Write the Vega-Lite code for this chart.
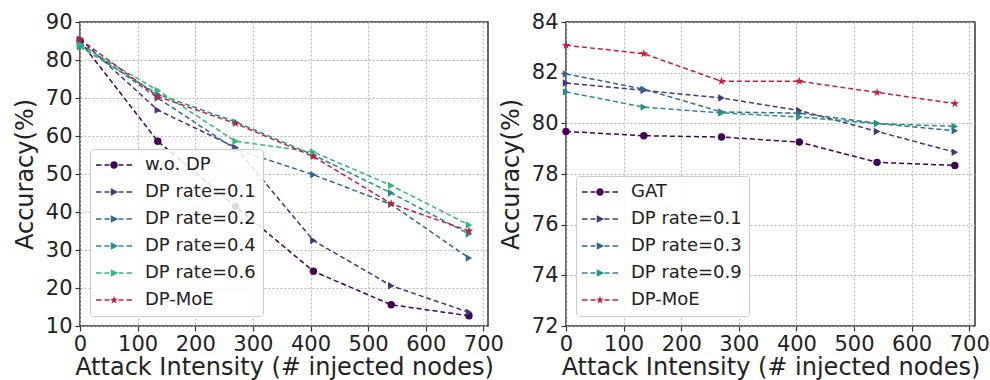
{
  "$schema": "https://vega.github.io/schema/vega-lite/v6.json",
  "background": "white",
  "padding": {"left": 12, "top": 10, "right": 5, "bottom": 0},
  "bounds": "flush",
  "spacing": 78,
  "config": {
    "font": "DejaVu Sans",
    "view": {"stroke": "#333333", "strokeWidth": 1.5},
    "axis": {
      "labelFont": "DejaVu Sans", "titleFont": "DejaVu Sans",
      "labelFontSize": 21, "titleFontSize": 24, "titleFontWeight": "normal",
      "labelColor": "#222222", "titleColor": "#222222",
      "domain": false, "tickColor": "#333333", "tickSize": 5, "tickWidth": 1.2,
      "labelPadding": 3,
      "grid": true, "gridColor": "#b8b8b8", "gridDash": [2, 2], "gridWidth": 1,
      "labelFlush": false, "labelOverlap": false
    },
    "axisX": {"labelPadding": 2, "titlePadding": 1},
    "legend": {
      "labelFont": "DejaVu Sans", "labelFontSize": 18, "labelColor": "#222222",
      "fillColor": "rgba(255,255,255,0.85)", "strokeColor": "#cccccc", "cornerRadius": 3,
      "padding": 7, "rowPadding": 9, "symbolSize": 100, "symbolOffset": 8, "labelOffset": 22,
      "symbolStrokeWidth": 0, "orient": "bottom-left", "offset": 10
    }
  },
  "datasets": {
    "left": [
      {"x": 0, "acc": 85.0, "series": "w.o. DP", "m": "c"},
      {"x": 135, "acc": 58.6, "series": "w.o. DP", "m": "c"},
      {"x": 270, "acc": 41.5, "series": "w.o. DP", "m": "c"},
      {"x": 405, "acc": 24.4, "series": "w.o. DP", "m": "c"},
      {"x": 540, "acc": 15.6, "series": "w.o. DP", "m": "c"},
      {"x": 675, "acc": 12.7, "series": "w.o. DP", "m": "c"},
      {"x": 0, "acc": 85.5, "series": "DP rate=0.1", "m": "t"},
      {"x": 135, "acc": 66.8, "series": "DP rate=0.1", "m": "t"},
      {"x": 270, "acc": 57.0, "series": "DP rate=0.1", "m": "t"},
      {"x": 405, "acc": 32.5, "series": "DP rate=0.1", "m": "t"},
      {"x": 540, "acc": 20.6, "series": "DP rate=0.1", "m": "t"},
      {"x": 675, "acc": 13.6, "series": "DP rate=0.1", "m": "t"},
      {"x": 0, "acc": 84.5, "series": "DP rate=0.2", "m": "t"},
      {"x": 135, "acc": 70.0, "series": "DP rate=0.2", "m": "t"},
      {"x": 270, "acc": 56.5, "series": "DP rate=0.2", "m": "t"},
      {"x": 405, "acc": 49.8, "series": "DP rate=0.2", "m": "t"},
      {"x": 540, "acc": 42.0, "series": "DP rate=0.2", "m": "t"},
      {"x": 675, "acc": 27.9, "series": "DP rate=0.2", "m": "t"},
      {"x": 0, "acc": 83.5, "series": "DP rate=0.4", "m": "t"},
      {"x": 135, "acc": 71.0, "series": "DP rate=0.4", "m": "t"},
      {"x": 270, "acc": 63.7, "series": "DP rate=0.4", "m": "t"},
      {"x": 405, "acc": 55.0, "series": "DP rate=0.4", "m": "t"},
      {"x": 540, "acc": 45.0, "series": "DP rate=0.4", "m": "t"},
      {"x": 675, "acc": 34.2, "series": "DP rate=0.4", "m": "t"},
      {"x": 0, "acc": 84.0, "series": "DP rate=0.6", "m": "t"},
      {"x": 135, "acc": 72.0, "series": "DP rate=0.6", "m": "t"},
      {"x": 270, "acc": 58.6, "series": "DP rate=0.6", "m": "t"},
      {"x": 405, "acc": 55.8, "series": "DP rate=0.6", "m": "t"},
      {"x": 540, "acc": 47.0, "series": "DP rate=0.6", "m": "t"},
      {"x": 675, "acc": 36.6, "series": "DP rate=0.6", "m": "t"},
      {"x": 0, "acc": 85.5, "series": "DP-MoE", "m": "s"},
      {"x": 135, "acc": 70.4, "series": "DP-MoE", "m": "s"},
      {"x": 270, "acc": 63.3, "series": "DP-MoE", "m": "s"},
      {"x": 405, "acc": 54.6, "series": "DP-MoE", "m": "s"},
      {"x": 540, "acc": 42.2, "series": "DP-MoE", "m": "s"},
      {"x": 675, "acc": 35.0, "series": "DP-MoE", "m": "s"}
    ],
    "right": [
      {"x": 0, "acc": 79.68, "series": "GAT", "m": "c"},
      {"x": 135, "acc": 79.51, "series": "GAT", "m": "c"},
      {"x": 270, "acc": 79.46, "series": "GAT", "m": "c"},
      {"x": 405, "acc": 79.26, "series": "GAT", "m": "c"},
      {"x": 540, "acc": 78.46, "series": "GAT", "m": "c"},
      {"x": 675, "acc": 78.34, "series": "GAT", "m": "c"},
      {"x": 0, "acc": 81.59, "series": "DP rate=0.1", "m": "t"},
      {"x": 135, "acc": 81.3, "series": "DP rate=0.1", "m": "t"},
      {"x": 270, "acc": 81.0, "series": "DP rate=0.1", "m": "t"},
      {"x": 405, "acc": 80.51, "series": "DP rate=0.1", "m": "t"},
      {"x": 540, "acc": 79.68, "series": "DP rate=0.1", "m": "t"},
      {"x": 675, "acc": 78.86, "series": "DP rate=0.1", "m": "t"},
      {"x": 0, "acc": 81.95, "series": "DP rate=0.3", "m": "t"},
      {"x": 135, "acc": 81.35, "series": "DP rate=0.3", "m": "t"},
      {"x": 270, "acc": 80.45, "series": "DP rate=0.3", "m": "t"},
      {"x": 405, "acc": 80.4, "series": "DP rate=0.3", "m": "t"},
      {"x": 540, "acc": 80.0, "series": "DP rate=0.3", "m": "t"},
      {"x": 675, "acc": 79.71, "series": "DP rate=0.3", "m": "t"},
      {"x": 0, "acc": 81.24, "series": "DP rate=0.9", "m": "t"},
      {"x": 135, "acc": 80.64, "series": "DP rate=0.9", "m": "t"},
      {"x": 270, "acc": 80.41, "series": "DP rate=0.9", "m": "t"},
      {"x": 405, "acc": 80.25, "series": "DP rate=0.9", "m": "t"},
      {"x": 540, "acc": 79.99, "series": "DP rate=0.9", "m": "t"},
      {"x": 675, "acc": 79.88, "series": "DP rate=0.9", "m": "t"},
      {"x": 0, "acc": 83.08, "series": "DP-MoE", "m": "s"},
      {"x": 135, "acc": 82.75, "series": "DP-MoE", "m": "s"},
      {"x": 270, "acc": 81.66, "series": "DP-MoE", "m": "s"},
      {"x": 405, "acc": 81.66, "series": "DP-MoE", "m": "s"},
      {"x": 540, "acc": 81.22, "series": "DP-MoE", "m": "s"},
      {"x": 675, "acc": 80.78, "series": "DP-MoE", "m": "s"}
    ]
  },
  "hconcat": [
    {
      "width": 408, "height": 304,
      "data": {"name": "left"},
      "encoding": {
        "x": {"field": "x", "type": "quantitative", "scale": {"domain": [0, 708], "nice": false, "zero": false},
              "axis": {"values": [0, 100, 200, 300, 400, 500, 600, 700], "title": "Attack Intensity (# injected nodes)"}},
        "y": {"field": "acc", "type": "quantitative", "scale": {"domain": [10, 90], "nice": false, "zero": false},
              "axis": {"values": [10, 20, 30, 40, 50, 60, 70, 80, 90], "title": "Accuracy(%)", "titlePadding": 8}},
        "color": {"field": "series", "type": "nominal", "title": null,
                  "scale": {"domain": ["w.o. DP", "DP rate=0.1", "DP rate=0.2", "DP rate=0.4", "DP rate=0.6", "DP-MoE"],
                            "range": ["#440154", "#46337e", "#31688e", "#21918c", "#35b779", "#c41e3a"]},
                  "legend": {"title": null, "symbolType": "circle", "encode": {"symbols": {"update": {
                    "shape": {"signal": "(datum.value === 'w.o. DP' || datum.value === 'GAT') ? 'M-3.6,-0.15H-2.5V0.15H-3.6Z M-1.9,-0.15H-0.9V0.15H-1.9Z M0.9,-0.15H1.9V0.15H0.9Z M2.5,-0.15H3.6V0.15H2.5Z M0.75,0A0.75,0.75,0,1,1,-0.75,0A0.75,0.75,0,1,1,0.75,0Z' : (datum.value === 'DP-MoE' ? 'M-3.6,-0.15H-2.5V0.15H-3.6Z M-1.9,-0.15H-0.9V0.15H-1.9Z M0.9,-0.15H1.9V0.15H0.9Z M2.5,-0.15H3.6V0.15H2.5Z M0,-0.85L0.2,-0.275L0.808,-0.263L0.323,0.105L0.5,0.688L0,0.34L-0.5,0.688L-0.323,0.105L-0.808,-0.263L-0.2,-0.275Z' : 'M-3.6,-0.15H-2.5V0.15H-3.6Z M-1.9,-0.15H-0.9V0.15H-1.9Z M0.9,-0.15H1.9V0.15H0.9Z M2.5,-0.15H3.6V0.15H2.5Z M-0.65,-0.75L0.85,0L-0.65,0.75Z')"}}}}}}
      },
      "layer": [
        {"mark": {"type": "line", "strokeDash": [5, 3], "strokeWidth": 1.5},
         "encoding": {"detail": {"field": "series"}}},
        {"transform": [{"filter": "datum.m === 'c'"}],
         "mark": {"type": "point", "filled": true, "size": 55, "opacity": 1, "shape": "circle"}},
        {"transform": [{"filter": "datum.m === 't'"}],
         "mark": {"type": "point", "filled": true, "size": 55, "opacity": 1, "shape": "triangle-right"}},
        {"transform": [{"filter": "datum.m === 's'"}],
         "mark": {"type": "point", "filled": true, "size": 55, "opacity": 1, "shape": "M0,-1.2L0.282,-0.388L1.141,-0.371L0.456,0.149L0.705,0.971L0,0.48L-0.705,0.971L-0.456,0.149L-1.141,-0.371L-0.282,-0.388Z"}}
      ]
    },
    {
      "width": 409, "height": 304,
      "data": {"name": "right"},
      "encoding": {
        "x": {"field": "x", "type": "quantitative", "scale": {"domain": [0, 710], "nice": false, "zero": false},
              "axis": {"values": [0, 100, 200, 300, 400, 500, 600, 700], "title": "Attack Intensity (# injected nodes)"}},
        "y": {"field": "acc", "type": "quantitative", "scale": {"domain": [72, 84], "nice": false, "zero": false},
              "axis": {"values": [72, 74, 76, 78, 80, 82, 84], "title": "Accuracy(%)", "titlePadding": 8}},
        "color": {"field": "series", "type": "nominal", "title": null,
                  "scale": {"domain": ["GAT", "DP rate=0.1", "DP rate=0.3", "DP rate=0.9", "DP-MoE"],
                            "range": ["#440154", "#46337e", "#31688e", "#21918c", "#c41e3a"]},
                  "legend": {"title": null, "symbolType": "circle", "encode": {"symbols": {"update": {
                    "shape": {"signal": "(datum.value === 'w.o. DP' || datum.value === 'GAT') ? 'M-3.6,-0.15H-2.5V0.15H-3.6Z M-1.9,-0.15H-0.9V0.15H-1.9Z M0.9,-0.15H1.9V0.15H0.9Z M2.5,-0.15H3.6V0.15H2.5Z M0.75,0A0.75,0.75,0,1,1,-0.75,0A0.75,0.75,0,1,1,0.75,0Z' : (datum.value === 'DP-MoE' ? 'M-3.6,-0.15H-2.5V0.15H-3.6Z M-1.9,-0.15H-0.9V0.15H-1.9Z M0.9,-0.15H1.9V0.15H0.9Z M2.5,-0.15H3.6V0.15H2.5Z M0,-0.85L0.2,-0.275L0.808,-0.263L0.323,0.105L0.5,0.688L0,0.34L-0.5,0.688L-0.323,0.105L-0.808,-0.263L-0.2,-0.275Z' : 'M-3.6,-0.15H-2.5V0.15H-3.6Z M-1.9,-0.15H-0.9V0.15H-1.9Z M0.9,-0.15H1.9V0.15H0.9Z M2.5,-0.15H3.6V0.15H2.5Z M-0.65,-0.75L0.85,0L-0.65,0.75Z')"}}}}}}
      },
      "layer": [
        {"mark": {"type": "line", "strokeDash": [5, 3], "strokeWidth": 1.5},
         "encoding": {"detail": {"field": "series"}}},
        {"transform": [{"filter": "datum.m === 'c'"}],
         "mark": {"type": "point", "filled": true, "size": 55, "opacity": 1, "shape": "circle"}},
        {"transform": [{"filter": "datum.m === 't'"}],
         "mark": {"type": "point", "filled": true, "size": 55, "opacity": 1, "shape": "triangle-right"}},
        {"transform": [{"filter": "datum.m === 's'"}],
         "mark": {"type": "point", "filled": true, "size": 55, "opacity": 1, "shape": "M0,-1.2L0.282,-0.388L1.141,-0.371L0.456,0.149L0.705,0.971L0,0.48L-0.705,0.971L-0.456,0.149L-1.141,-0.371L-0.282,-0.388Z"}}
      ]
    }
  ],
  "resolve": {"scale": {"color": "independent"}, "legend": {"color": "independent"}}
}
